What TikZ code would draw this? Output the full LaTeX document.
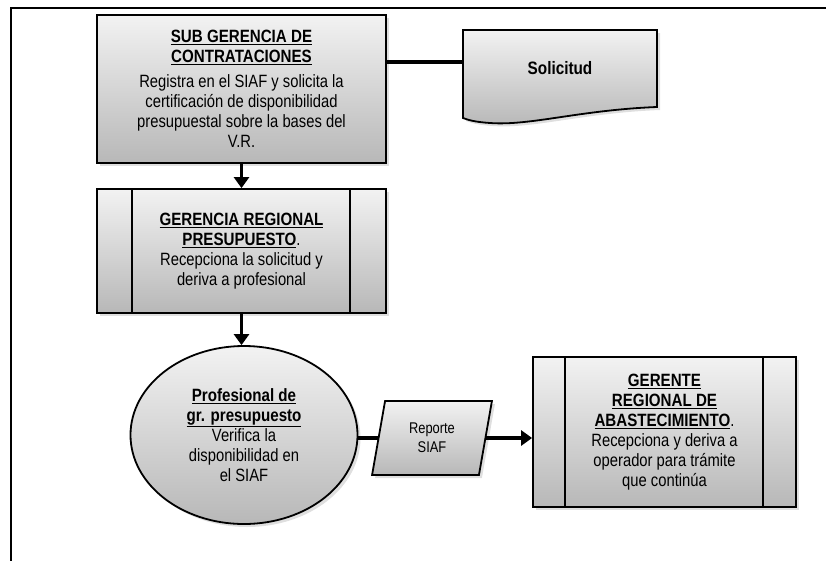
\documentclass[tikz,border=0pt]{standalone}
\usepackage{fontspec}
\setmainfont{Liberation Sans}[UprightFeatures={FakeStretch=0.83}, BoldFeatures={FakeStretch=0.85}]
\usetikzlibrary{shapes.geometric,shadows,arrows.meta}
\newcommand\mytextfont{\fontsize{17.8}{20}\selectfont\setlength{\lineskiplimit}{-50pt}}
\begin{document}
\begin{tikzpicture}[x=1pt,y=-1pt,
 shd/.style={top color=black!5, bottom color=black!28, draw=black, line width=1.8pt},
 shad/.style={drop shadow={opacity=0.25, shadow xshift=3pt, shadow yshift=-3pt}},
 boxa/.style={shd, shad, rectangle, inner sep=0pt, align=center, font=\mytextfont},
 conn/.style={line width=3.5pt},
 arr/.style={line width=3.5pt, -{Triangle[width=15pt,length=11pt]}},
 inner/.style={line width=1.8pt},
]
\useasboundingbox (0,0) rectangle (826,560);
\draw[line width=2.5pt] (11,575) -- (11,8) -- (840,8);

% box 1
\node[boxa, minimum width=289, minimum height=148] (b1) at (241.5,89)
 {\underline{\textbf{SUB GERENCIA DE}}\\
  \underline{\textbf{CONTRATACIONES}}\\[5pt]
  Registra en el SIAF y solicita la\\
  certificación de disponibilidad\\
  presupuestal sobre la bases del\\
  V.R.};

% document
\draw[shd, shad] (463,30) -- (657,30) -- (657,107)
  .. controls (580,110) and (530,126) .. (490,123)
  .. controls (475,122) and (468,120) .. (463,118) -- cycle;
\node[minimum width=194, minimum height=77, inner sep=0pt,
  font=\fontsize{18}{20}\selectfont\bfseries] (sol) at (560,68.5) {Solicitud};
\draw[conn] ([yshift=6.5pt]sol.west -| b1.east) -- ([yshift=6.5pt]sol.west);

% box 2
\node[boxa, minimum width=289, minimum height=124] (b2) at (241.5,251)
 {\underline{\textbf{GERENCIA REGIONAL}}\\
  \underline{\textbf{PRESUPUESTO}}.\\
  Recepciona la solicitud y\\
  deriva a profesional};
\draw[inner] ([xshift=36pt]b2.north west) -- ([xshift=36pt]b2.south west);
\draw[inner] ([xshift=-37pt]b2.north east) -- ([xshift=-37pt]b2.south east);
\draw[arr] (b1.south) -- (b2.north);

% ellipse
\node[boxa, ellipse, minimum width=227, minimum height=178] (ell) at (244,435)
 {\underline{\textbf{Profesional de}}\\
  \underline{\textbf{gr. presupuesto}}\\
  Verifica la\\
  disponibilidad en\\
  el SIAF};
\draw[arr] (b2.south) -- (b2.south |- ell.north);

% parallelogram
\node[shd, shad, trapezium, trapezium left angle=78, trapezium right angle=102,
  trapezium stretches=true, minimum width=120, minimum height=74, inner sep=0pt,
  align=center, font=\fontsize{15.5}{19}\selectfont] (par) at (432,438) {Reporte\\SIAF};
\draw[conn] (ell.east |- par.west) -- (par.west);

% box 3
\node[boxa, minimum width=263, minimum height=150] (b3) at (664.5,432)
 {\underline{\textbf{GERENTE}}\\
  \underline{\textbf{REGIONAL DE}}\\
  \underline{\textbf{ABASTECIMIENTO}}.\\
  Recepciona y deriva a\\
  operador para trámite\\
  que continúa};
\draw[inner] ([xshift=33pt]b3.north west) -- ([xshift=33pt]b3.south west);
\draw[inner] ([xshift=-34pt]b3.north east) -- ([xshift=-34pt]b3.south east);
\draw[arr] (par.east) -- (par.east -| b3.west);
\end{tikzpicture}
\end{document}
